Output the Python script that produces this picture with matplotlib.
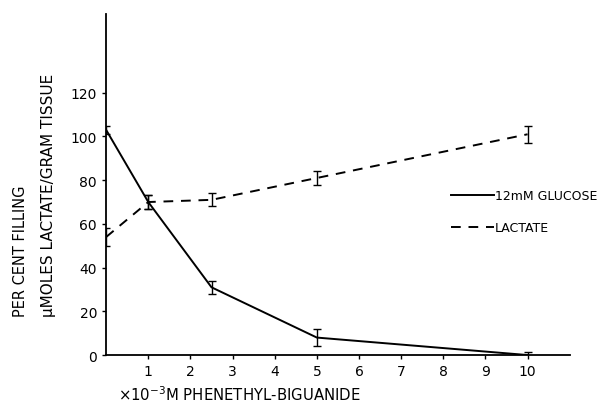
import matplotlib.pyplot as plt
import numpy as np

conc = [0, 1, 2.5, 5, 10]
glucose = [103, 70, 31, 8, 0]
glucose_err = [2, 3, 3, 4, 1.5]
lactate = [54, 70, 71, 81, 101]
lactate_err = [4, 3, 3, 3, 4]

plt.rcParams['font.family'] = ['DejaVu Sans']
fig = plt.figure(figsize=(6.1, 4.06), dpi=100)
ax = fig.add_axes([0.174, 0.123, 0.76, 0.84])

ax.errorbar(conc, glucose, yerr=glucose_err, color='black', linewidth=1.4,
            elinewidth=1, capsize=3, label='12mM GLUCOSE')
ax.errorbar(conc, lactate, yerr=lactate_err, color='black', linewidth=1.4,
            linestyle=(0, (5, 4)), elinewidth=1, capsize=3, label='LACTATE')

ax.set_xlim(0, 11)
ax.set_ylim(0, 156)
ax.set_xticks(range(1, 11))
ax.set_yticks(range(0, 121, 20))
ax.tick_params(labelsize=10, length=3, width=1)
for s in ['top', 'right']:
    ax.spines[s].set_visible(False)
ax.spines['left'].set_linewidth(1.3)
ax.spines['bottom'].set_linewidth(1.3)

handles, labels = ax.get_legend_handles_labels()
handles = [h[0] for h in handles]
ax.legend(handles, labels, loc='center left', bbox_to_anchor=(0.72, 0.42),
          frameon=False, fontsize=9, handlelength=3.4, handletextpad=0.1,
          labelspacing=1.5)

fig.text(0.033, 0.22, 'PER CENT FILLING', rotation=90, va='bottom', ha='center', fontsize=10.5)
fig.text(0.079, 0.22, 'µMOLES LACTATE/GRAM TISSUE', rotation=90, va='bottom', ha='center', fontsize=11)
fig.text(0.193, 0.027, r'$\times10^{-3}$M PHENETHYL-BIGUANIDE', ha='left', va='center', fontsize=10.7)

fig.savefig('out.png')
